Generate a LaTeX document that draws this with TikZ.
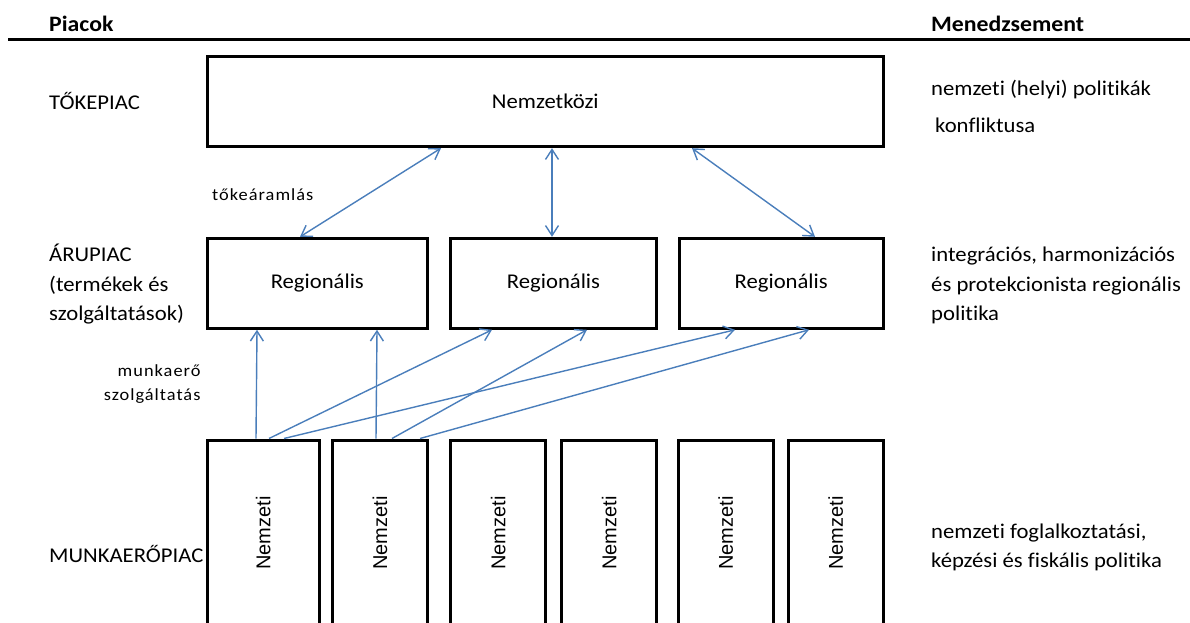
\documentclass[tikz,border=0pt]{standalone}
\usepackage{fontspec}
\setmainfont{Carlito}[FakeStretch=1.08, Ligatures=NoCommon]
\newfontfamily\natfont{Liberation Sans}
\usetikzlibrary{arrows.meta,calc}
\definecolor{flow}{RGB}{74,126,187}
\newcommand\sidetext[1]{\rotatebox{90}{\natfont\fontsize{20}{24}\selectfont #1}}

\begin{document}
\begin{tikzpicture}[x=1pt,y=-1pt,
  box/.style={draw, line width=3pt, inner sep=0pt, font=\fontsize{21}{25}\selectfont},
  natbox/.style={box, minimum height=186},
  % multi-line labels are placed by the baseline of their last line
  lbl/.style={inner sep=0pt, anchor=base west, align=left, font=\fontsize{21}{29.5}\selectfont},
  head/.style={lbl, font=\fontsize{22}{26}\selectfont\bfseries},
  small/.style={inner sep=0pt, font=\fontsize{17}{23.5}\selectfont\addfontfeature{LetterSpace=6}},
  barb/.tip={Straight Barb[length=10pt,width=13pt]},
  flowarr/.style={draw=flow, line width=1.4pt, -barb},
  twoway/.style={draw=flow, line width=1.4pt, barb-barb},
]
\clip (0,0) rectangle (1190,623);

% column headings and rule
\node[head] (hmkt) at (49,31.5) {Piacok};
\node[head] (hmgt) at (931,31.5) {Menedzsement};
\draw[line width=3pt] (8,39.3) -- (1190,39.3);

% market levels
\node[box, minimum width=676, minimum height=90.4] (intl) at (545.3,101.5) {Nemzetközi};

\node[box, minimum width=220,   minimum height=90] (r1) at (317.3,283.3) {Regionális};
\node[box, minimum width=205.6, minimum height=90] (r2) at (553.5,283.3) {Regionális};
\node[box, minimum width=204.3, minimum height=90] (r3) at (781.2,283.3) {Regionális};

\node[natbox, minimum width=112.3] (na) at (263.2,533) {\sidetext{Nemzeti}};
\node[natbox, minimum width=94.6]  (nb) at (380.0,533) {\sidetext{Nemzeti}};
\node[natbox, minimum width=95]    (nc) at (498.2,533) {\sidetext{Nemzeti}};
\node[natbox, minimum width=95]    (nd) at (609.2,533) {\sidetext{Nemzeti}};
\node[natbox, minimum width=95]    (ne) at (725.8,533) {\sidetext{Nemzeti}};
\node[natbox, minimum width=95]    (nf) at (835.8,533) {\sidetext{Nemzeti}};

% left: market names
\node[lbl] (lcap) at (49,110) {TŐKEPIAC};
\node[lbl] (lgds) at (49,320.5) {ÁRUPIAC\\(termékek és\\szolgáltatások)};
\node[lbl] (llab) at (49,562) {MUNKAERŐPIAC};

% right: management
\node[lbl, font=\fontsize{21}{36}\selectfont] (mcap) at (931,132) {nemzeti (helyi) politikák\\\hspace{4pt}konfliktusa};
\node[lbl] (mgds) at (931,320.5) {integrációs, harmonizációs\\és protekcionista regionális\\politika};
\node[lbl] (mlab) at (931,567.5) {nemzeti foglalkoztatási,\\képzési és fiskális politika};

% flow labels
\node[small, anchor=base west] (tcap) at (212,200) {tőkeáramlás};
\node[small, anchor=base east, align=right] (tlab) at (200.7,400.2) {munkaerő\\szolgáltatás};

% capital flows
\draw[twoway] (intl.south -| 441,0) -- (r1.north -| 300,0);
\draw[twoway] (intl.south -| 552,0) -- (r2.north -| 552,0);
\draw[twoway] (intl.south -| 692,0) -- (r3.north -| 815,0);

% labour services
\draw[flowarr] (na.north -| 256,0) -- (r1.south -| 257,0);
\draw[flowarr] (na.north -| 269,0) -- (r2.south -| 492,0);
\draw[flowarr] (na.north -| 284,0) -- (r3.south -| 735,0);
\draw[flowarr] (nb.north -| 376,0) -- (r1.south -| 377,0);
\draw[flowarr] (nb.north -| 392,0) -- (r2.south -| 587,0);
\draw[flowarr] (nb.north -| 420,0) -- (r3.south -| 809,0);
\end{tikzpicture}
\end{document}
